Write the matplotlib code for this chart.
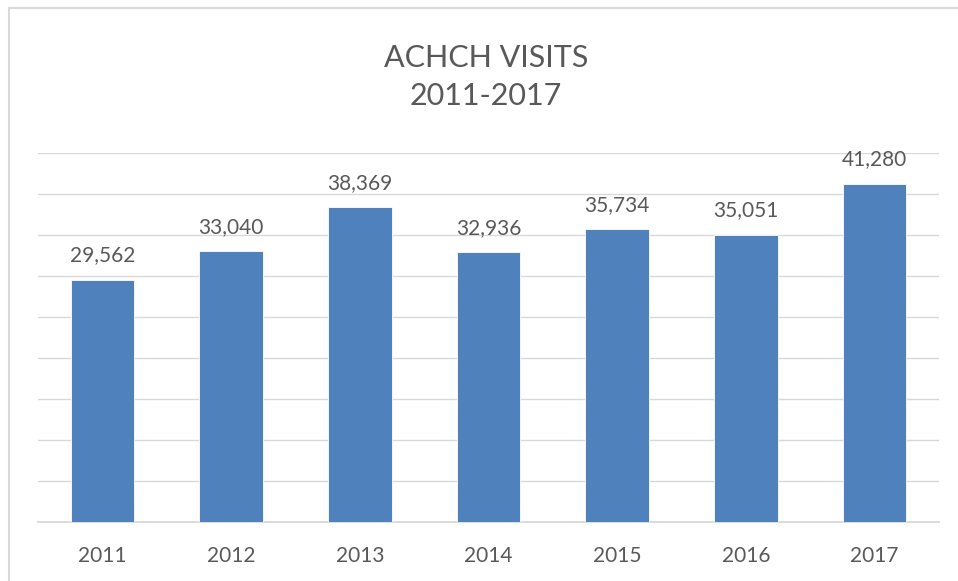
import matplotlib
matplotlib.use("Agg")
import matplotlib.pyplot as plt
from matplotlib.patches import Rectangle

years = ["2011", "2012", "2013", "2014", "2015", "2016", "2017"]
visits = [29562, 33040, 38369, 32936, 35734, 35051, 41280]
title_lines = ["ACHCH VISITS", "2011-2017"]

text_color = "#595959"
bar_color = "#4F81BD"
grid_color = "#D9D9D9"
font = "Lato"

fig = plt.figure(figsize=(9.58, 5.81), dpi=100)
W, H = 958, 581

# outer chart border (left/top visible, right/bottom cut off)
fig.patches.append(Rectangle((9 / W, -0.05), 1.1, (H - 8) / H + 0.05,
                             transform=fig.transFigure, fill=False,
                             edgecolor=grid_color, linewidth=1.5))

ax = fig.add_axes([38 / W, (H - 522) / H, (939 - 38) / W, (522 - 153) / H])
x = list(range(len(years)))
ax.bar(x, visits, width=0.495, color=bar_color, edgecolor="white",
       linewidth=0.6, zorder=3)
ax.set_xlim(-0.5, len(years) - 0.5)
ax.set_ylim(0, 45000)
ax.set_yticks(range(0, 45001, 5000))
ax.yaxis.grid(True, color=grid_color, linewidth=1.0, zorder=0)
ax.tick_params(axis="y", length=0, labelleft=False)
ax.set_xticks(x)
ax.set_xticklabels(years, fontsize=15, color=text_color, family=font)
ax.tick_params(axis="x", length=0, pad=17)
for s in ["top", "right", "left"]:
    ax.spines[s].set_visible(False)
ax.spines["bottom"].set_color(grid_color)
ax.spines["bottom"].set_linewidth(1.3)
ax.set_axisbelow(True)

for xi, v in zip(x, visits):
    ax.annotate(f"{v:,}", (xi, v), xytext=(0, 13), textcoords="offset points",
                ha="center", va="baseline", fontsize=15, color=text_color,
                family=font)

fig.text(486 / W, (H - 67) / H, title_lines[0], ha="center", va="baseline",
         fontsize=22, color=text_color, family=font)
fig.text(486 / W, (H - 105) / H, title_lines[1], ha="center", va="baseline",
         fontsize=22, color=text_color, family=font)

fig.savefig("out.png", dpi=100, facecolor="white")
